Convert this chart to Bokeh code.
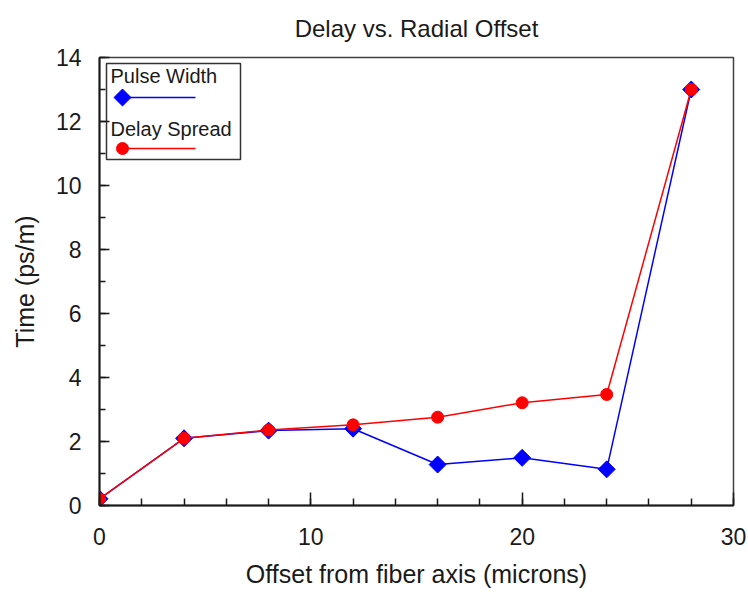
import numpy as np
from bokeh.plotting import figure
from bokeh.models import Range1d, SingleIntervalTicker
from bokeh.core.properties import value
from bokeh.embed import file_html
from bokeh.resources import INLINE

# data
offset = [0, 4, 8, 12, 16, 20, 24, 28]
pulse_width = [0.21, 2.10, 2.34, 2.40, 1.28, 1.49, 1.13, 13.0]
delay_spread = [0.21, 2.10, 2.36, 2.52, 2.76, 3.21, 3.47, 13.0]
series_names = ["Pulse Width", "Delay Spread"]
series_colors = ["#0000ff", "#ff0000"]

FONT = "Liberation Sans"
FW, FH = 634, 448
INK = "#1a1a1a"

p = figure(frame_width=FW, frame_height=FH,
           x_range=Range1d(0, 30), y_range=Range1d(0, 14),
           output_backend="svg", toolbar_location=None,
           min_border_left=99, min_border_top=57,
           min_border_right=14, min_border_bottom=86,
           title="Delay vs. Radial Offset")
p.background_fill_color = "white"
p.border_fill_color = "white"
p.outline_line_color = "#404040"
p.outline_line_width = 1.5
p.xgrid.visible = False
p.ygrid.visible = False

# title
p.title.align = "center"
p.title.vertical_align = "top"
p.title.text_font = FONT
p.title.text_font_size = "24px"
p.title.text_font_style = "normal"
p.title.text_color = INK
p.title.standoff = 27

# axes
p.xaxis.ticker = SingleIntervalTicker(interval=10, num_minor_ticks=5)
p.yaxis.ticker = SingleIntervalTicker(interval=2, num_minor_ticks=2)
p.xaxis.axis_label = "Offset from fiber axis (microns)"
p.yaxis.axis_label = "Time (ps/m)"
for ax in (p.xaxis, p.yaxis):
    ax.axis_line_color = INK
    ax.axis_line_width = 2
    ax.major_tick_line_color = INK
    ax.minor_tick_line_color = INK
    ax.major_tick_line_width = 1.5
    ax.minor_tick_line_width = 1.5
    ax.major_tick_out = 0
    ax.minor_tick_out = 0
    ax.major_label_text_font = FONT
    ax.major_label_text_font_size = "23px"
    ax.major_label_text_color = INK
    ax.axis_label_text_font = FONT
    ax.axis_label_text_font_size = "25px"
    ax.axis_label_text_font_style = "normal"
    ax.axis_label_text_color = INK
p.xaxis.major_tick_in = 13
p.xaxis.minor_tick_in = 7
p.yaxis.major_tick_in = 10
p.yaxis.minor_tick_in = 6
p.xaxis.major_label_standoff = 22
p.yaxis.major_label_standoff = 18
p.xaxis.axis_label_standoff = 12
p.yaxis.axis_label_standoff = 14

# series: pulse width first, delay spread on top
p.line(offset, pulse_width, line_color=series_colors[0], line_width=1.5)
p.scatter(offset, pulse_width, marker="square", angle=np.pi / 4, size=12,
          fill_color=series_colors[0], line_color=series_colors[0])
p.line(offset, delay_spread, line_color=series_colors[1], line_width=1.5)
p.scatter(offset, delay_spread, marker="circle", size=12,
          fill_color=series_colors[1], line_color=series_colors[1])

# legend, drawn in frame pixel space: label above a line with the marker at its left end
p.extra_x_ranges = {"px": Range1d(0, FW)}
p.extra_y_ranges = {"px": Range1d(0, FH)}
p.quad(left=[7], right=[141], top=[442], bottom=[346], fill_color="white",
       line_color="#333333", line_width=1.5, x_range_name="px", y_range_name="px")
p.text(x=[11, 11], y=[430, 377], text=series_names, text_font=value(FONT),
       text_font_size="20px", text_baseline="middle", text_color=INK,
       x_range_name="px", y_range_name="px")
p.segment(x0=[23, 23], y0=[408, 357], x1=[96, 96], y1=[408, 357],
          line_color=series_colors, line_width=1.5, x_range_name="px", y_range_name="px")
p.scatter(x=[23], y=[408], marker="square", angle=np.pi / 4, size=12,
          fill_color=series_colors[0], line_color=series_colors[0],
          x_range_name="px", y_range_name="px")
p.scatter(x=[23], y=[357], marker="circle", size=12,
          fill_color=series_colors[1], line_color=series_colors[1],
          x_range_name="px", y_range_name="px")

open("out.html", "w").write(file_html(p, INLINE))
